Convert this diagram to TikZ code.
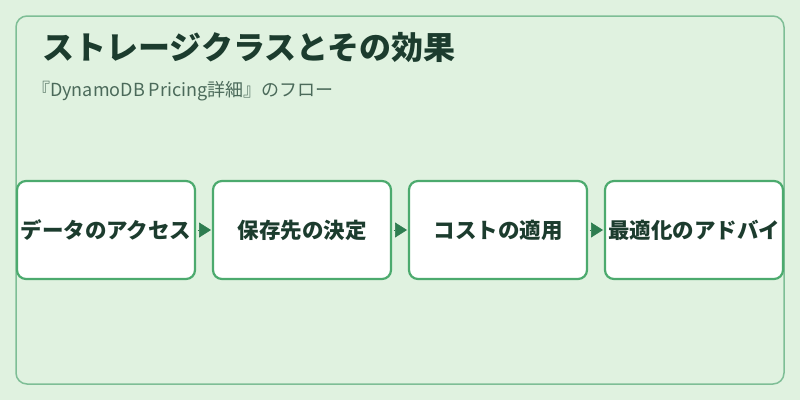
\documentclass[tikz,border=0pt]{standalone}
\usepackage{fontspec}
\setmainfont{Noto Sans CJK JP}
\usetikzlibrary{positioning,arrows.meta}
\definecolor{bgpale}{HTML}{E0F2E0}
\definecolor{framegreen}{HTML}{7EBE96}
\definecolor{boxgreen}{HTML}{4CAA6E}
\definecolor{arrowgreen}{HTML}{2E7D50}
\definecolor{titleink}{HTML}{1C3C2E}
\definecolor{subink}{HTML}{4B6A5A}
\begin{document}
\begin{tikzpicture}[
			x=1pt, y=-1pt,
			stepbox/.style = {draw=boxgreen, line width=2.2pt, fill=white, rounded corners=9pt,
				minimum width=178pt, minimum height=98pt, inner sep=0pt, outer sep=0pt,
				font=\fontsize{21.5}{24}\selectfont\bfseries, text=titleink},
			flow/.style = {draw=arrowgreen, line width=0.6pt, shorten <=2.5pt, shorten >=2pt,
				-{Triangle[length=12pt,width=15pt]}},
			]
			\fill[bgpale] (0,0) rectangle (800,400);
			\draw[framegreen, line width=1.5pt, fill=bgpale, rounded corners=11pt] (16,16) rectangle (784,384);
			\node[anchor=base west, font=\fontsize{32}{36}\selectfont\bfseries, text=titleink, inner sep=0pt] (title) at (42,59) {ストレージクラスとその効果};
			\node[anchor=base west, font=\fontsize{18}{21}\selectfont, text=subink, inner sep=0pt] (subtitle) at (32,96) {『DynamoDB Pricing詳細』のフロー};
			% process steps
			\node[stepbox] (access) at (106,230) {データのアクセス};
			\node[stepbox, right=18pt of access] (store) {保存先の決定};
			\node[stepbox, right=18pt of store] (cost) {コストの適用};
			\node[stepbox, right=18pt of cost] (advice) {最適化のアドバイ};
			\draw[flow] (access) -- (store);
			\draw[flow] (store) -- (cost);
			\draw[flow] (cost) -- (advice);
		\end{tikzpicture}
\end{document}
